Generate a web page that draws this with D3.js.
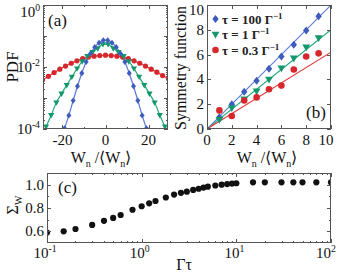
<!DOCTYPE html>
<html lang="en">
<head>
<meta charset="utf-8">
<title>Work statistics</title>
<script src="https://cdn.jsdelivr.net/npm/d3@7"></script>
<style>
  html, body { margin:0; padding:0; background:#fff; }
  svg { display:block; font-family:"Liberation Serif","Times New Roman",serif; }
</style>
</head>
<body>
<div id="chart"></div>
<script>

  ////////////////////////////////////////////////// DATA

  // (a) PDF of W_n/<W_n>
  var pdfBlueX  = [-19,-17,-15,-13,-11,-9,-7,-5,-3,-1,1,3,5,7,9,11,13,15,17,19];
  var pdfBlueY  = [0.000105,0.000275,0.00083,0.0024,0.0063,0.0145,0.0269,0.0437,0.0603,0.0724,
                   0.0724,0.0603,0.0437,0.0269,0.0145,0.0063,0.0024,0.00083,0.000275,0.000105];
  var pdfGreenX = [-27.6,-25.2,-22.8,-20.4,-18,-15.6,-13.2,-10.8,-8.4,-6,-3.6,-1.2,
                   1.2,3.6,6,8.4,10.8,13.2,15.6,18,20.4,22.8,25.2,27.6];
  var pdfGreenY = [0.00012,0.00028,0.00071,0.00138,0.0026,0.0048,0.0089,0.0151,0.0224,0.0302,0.0398,0.054,
                   0.054,0.0398,0.0302,0.0224,0.0151,0.0089,0.0048,0.0026,0.00138,0.00071,0.00028,0.00012];
  var pdfRedX   = [-29.15,-26.5,-23.85,-21.2,-18.55,-15.9,-13.25,-10.6,-7.95,-5.3,-2.65,0,
                   2.65,5.3,7.95,10.6,13.25,15.9,18.55,21.2,23.85,26.5,29.15];
  var pdfRedY   = [0.0038,0.005,0.0066,0.0085,0.0107,0.0132,0.0158,0.0186,0.0209,0.0224,0.0234,0.024,
                   0.0234,0.0224,0.0209,0.0186,0.0158,0.0132,0.0107,0.0085,0.0068,0.0053,0.0042];

  // (b) symmetry function
  var symX     = [1,2,3,4,5,6,7,8,9];
  var symBlue  = [0.95,2.0,3.0,3.9,4.85,5.85,6.8,7.95,9.1];
  var symGreen = [0.75,1.7,2.4,3.05,4.0,4.9,5.7,6.6,7.35];
  var symRed   = [1.5,1.05,2.3,2.55,3.2,3.5,4.8,5.85,6.1];
  var fitSlopes = [1.0,0.8,0.62];
  var legendLabels = ["100","1","0.3"];

  // (c) Sigma_W vs Gamma*tau
  var gammaTau = [0.1,0.15,0.2,0.3,0.4,0.5,0.6,0.8,1.0,1.2,1.4,1.8,2.2,2.6,3.0,3.5,4.0,4.5,5.0,
                  6,7,8,9,10,15,20,30,40,50,70,100];
  var sigmaW   = [0.59,0.60,0.62,0.655,0.69,0.715,0.74,0.785,0.815,0.84,0.86,0.89,0.915,0.93,0.94,0.955,
                  0.965,0.975,0.983,0.993,1.0,1.005,1.009,1.012,1.02,1.02,1.02,1.02,1.02,1.02,1.02];

  // tick labels
  var ticksAx = [-20,0,20];
  var ticksAy = [0,-2,-4];
  var ticksB  = [0,2,4,6,8,10];
  var ticksCx = [-1,0,1,2];
  var ticksCy = [0.6,0.8,1.0];

  ////////////////////////////////////////////////// SETUP

  var W = 339, H = 272;
  var colBlue = "#3d5cbd", colGreen = "#14976c", colRed = "#d8272c";
  var lineBlue = "#5878d6", lineGreen = "#22a97a", lineRed = "#e2393b";
  var frameCol = "#555";

  var svg = d3.select("#chart").append("svg")
    .attr("width", W).attr("height", H);

  var pA = {l:43, r:168, t:5, b:129};
  var pB = {l:207, r:331, t:5, b:129};
  var pC = {l:47, r:331, t:173, b:243};

  var xA = d3.scaleLinear().domain([-29,29]).range([pA.l,pA.r]);
  var yA = d3.scaleLog().domain([1e-4,1]).range([pA.b,pA.t]);
  var xB = d3.scaleLinear().domain([0,10]).range([pB.l,pB.r]);
  var yB = d3.scaleLinear().domain([0,10]).range([pB.b,pB.t]);
  var xC = d3.scaleLog().domain([0.1,100]).range([pC.l,pC.r]);
  var yC = d3.scaleLinear().domain([0.5,1.1]).range([pC.b,pC.t]);

  function clip(id, p){
    svg.append("clipPath").attr("id",id).append("rect")
      .attr("x",p.l).attr("y",p.t).attr("width",p.r-p.l).attr("height",p.b-p.t);
  }
  clip("clipA",pA); clip("clipB",pB); clip("clipC",pC);

  function frame(p){
    svg.append("rect").attr("x",p.l+0.5).attr("y",p.t+0.5)
      .attr("width",p.r-p.l-1).attr("height",p.b-p.t-1)
      .attr("fill","none").attr("stroke",frameCol).attr("stroke-width",1);
  }

  // inward ticks on all four sides
  function xTicks(p, sx, vals, len){
    vals.forEach(function(v){
      var x = Math.round(sx(v))+0.5;
      svg.append("line").attr("x1",x).attr("x2",x).attr("y1",p.b).attr("y2",p.b-len)
        .attr("stroke",frameCol);
      svg.append("line").attr("x1",x).attr("x2",x).attr("y1",p.t).attr("y2",p.t+len)
        .attr("stroke",frameCol);
    });
  }
  function yTicks(p, sy, vals, len){
    vals.forEach(function(v){
      var y = Math.round(sy(v))+0.5;
      svg.append("line").attr("y1",y).attr("y2",y).attr("x1",p.l).attr("x2",p.l+len)
        .attr("stroke",frameCol);
      svg.append("line").attr("y1",y).attr("y2",y).attr("x1",p.r).attr("x2",p.r-len)
        .attr("stroke",frameCol);
    });
  }
  function logMinor(lo, hi){
    var out = [];
    for (var e=lo; e<hi; e++) for (var k=2; k<10; k++) out.push(k*Math.pow(10,e));
    return out;
  }

  function powLabel(x, y, exp, anchor, size){
    var t = svg.append("text").attr("x",x).attr("y",y)
      .attr("text-anchor",anchor).attr("font-size",size).attr("fill","#111");
    t.append("tspan").text("10");
    t.append("tspan").attr("dy",-6).attr("font-size",size*0.65).text(exp);
    return t;
  }

  function wnLabel(cx, y){
    var t = svg.append("text").attr("x",cx).attr("y",y)
      .attr("text-anchor","middle").attr("font-size",16).attr("fill","#111");
    t.append("tspan").text("W");
    t.append("tspan").attr("dy",4).attr("font-size",10).text("n");
    t.append("tspan").attr("dy",-4).text(" /\u27E8W");
    t.append("tspan").attr("dy",4).attr("font-size",10).text("n");
    t.append("tspan").attr("dy",-4).text("\u27E9");
  }

  function marker(sel, shape, r){
    if (shape === "diamond") {
      return sel.append("path").attr("d","M0,"+(-r*1.25)+"L"+r+",0L0,"+(r*1.25)+"L"+(-r)+",0Z");
    } else if (shape === "tri") {
      return sel.append("path").attr("d","M"+(-r*1.15)+","+(-r*0.8)+"L"+(r*1.15)+","+(-r*0.8)+"L0,"+(r*1.2)+"Z");
    }
    return sel.append("circle").attr("r",r);
  }

  ////////////////////////////////////////////////// PANEL (a)

  var gA = svg.append("g").attr("clip-path","url(#clipA)");
  var seriesA = [
    {x:pdfRedX,   y:pdfRedY,   c:colRed,   lc:lineRed,   s:"circle",  r:2.6},
    {x:pdfGreenX, y:pdfGreenY, c:colGreen, lc:lineGreen, s:"tri",     r:2.7},
    {x:pdfBlueX,  y:pdfBlueY,  c:colBlue,  lc:lineBlue,  s:"diamond", r:2.5}
  ];
  seriesA.forEach(function(s){
    var pts = s.x.map(function(v,i){ return [v, s.y[i]]; });
    gA.append("path").datum(pts)
      .attr("d", d3.line().curve(d3.curveMonotoneX)
        .x(function(d){ return xA(d[0]); }).y(function(d){ return yA(d[1]); }))
      .attr("fill","none").attr("stroke",s.lc).attr("stroke-width",1.2);
  });
  seriesA.forEach(function(s){
    s.x.forEach(function(v,i){
      var g = gA.append("g").attr("transform","translate("+xA(v)+","+yA(s.y[i])+")");
      marker(g, s.s, s.r).attr("fill",s.c);
    });
  });

  frame(pA);
  xTicks(pA, xA, ticksAx, 4);
  xTicks(pA, xA, [-10,10], 2);
  yTicks(pA, yA, [1,0.1,0.01,0.001,0.0001], 4);
  yTicks(pA, yA, logMinor(-4,0), 2);

  ticksAx.forEach(function(v){
    svg.append("text").attr("x",xA(v)).attr("y",145).attr("text-anchor","middle")
      .attr("font-size",15).attr("fill","#111").text(v);
  });
  ticksAy.forEach(function(e){
    var y = Math.max(yA(Math.pow(10,e)) + 5, 17);
    powLabel(40, y, e === 0 ? "0" : String(e), "end", 15);
  });
  wnLabel(101, 163);
  svg.append("text").attr("transform","translate(18,67) rotate(-90)")
    .attr("text-anchor","middle").attr("font-size",17).attr("fill","#111").text("PDF");
  svg.append("text").attr("x",48).attr("y",26).attr("font-size",17).attr("fill","#111").text("(a)");

  ////////////////////////////////////////////////// PANEL (b)

  var gB = svg.append("g").attr("clip-path","url(#clipB)");
  var seriesB = [
    {y:symBlue,  c:colBlue,  lc:lineBlue,  s:"diamond", r:3.2},
    {y:symGreen, c:colGreen, lc:lineGreen, s:"tri",     r:3.4},
    {y:symRed,   c:colRed,   lc:lineRed,   s:"circle",  r:3.3}
  ];
  seriesB.forEach(function(s,k){
    gB.append("line")
      .attr("x1",xB(0)).attr("y1",yB(0))
      .attr("x2",xB(10)).attr("y2",yB(10*fitSlopes[k]))
      .attr("stroke",s.lc).attr("stroke-width",1.1);
  });
  seriesB.forEach(function(s){
    symX.forEach(function(v,i){
      var g = gB.append("g").attr("transform","translate("+xB(v)+","+yB(s.y[i])+")");
      marker(g, s.s, s.r).attr("fill",s.c);
    });
  });
  // small origin point
  gB.append("circle").attr("cx",xB(0)).attr("cy",yB(0)).attr("r",2.5).attr("fill",colBlue);

  frame(pB);
  xTicks(pB, xB, ticksB, 4);
  yTicks(pB, yB, ticksB, 4);

  ticksB.forEach(function(v){
    var x = Math.min(xB(v), 326);
    svg.append("text").attr("x",x).attr("y",145).attr("text-anchor","middle")
      .attr("font-size",15).attr("fill","#111").text(v);
    var y = Math.max(yB(v) + 5, 15);
    svg.append("text").attr("x",204).attr("y",Math.min(y,134)).attr("text-anchor","end")
      .attr("font-size",15).attr("fill","#111").text(v);
  });
  wnLabel(267, 163);
  svg.append("text").attr("transform","translate(186,68) rotate(-90)")
    .attr("text-anchor","middle").attr("font-size",16).attr("fill","#111").text("Symmetry function");
  svg.append("text").attr("x",306).attr("y",118).attr("font-size",17).attr("fill","#111").text("(b)");

  // legend
  seriesB.forEach(function(s,k){
    var y = 19 + k*15.5;
    var g = svg.append("g").attr("transform","translate(215.5,"+y+")");
    marker(g, s.s, s.r).attr("fill",s.c);
    var t = svg.append("text").attr("x",222).attr("y",y+4.5)
      .attr("font-size",13).attr("font-weight","bold").attr("fill","#222");
    t.append("tspan").text("\u03C4 = "+legendLabels[k]+" \u0393");
    t.append("tspan").attr("dy",-5).attr("font-size",9).text("\u22121");
  });

  ////////////////////////////////////////////////// PANEL (c)

  var gC = svg.append("g").attr("clip-path","url(#clipC)");
  gammaTau.forEach(function(v,i){
    gC.append("circle").attr("cx",xC(v)).attr("cy",yC(sigmaW[i])).attr("r",3.1).attr("fill","#111");
  });

  frame(pC);
  xTicks(pC, xC, [0.1,1,10,100], 4);
  xTicks(pC, xC, logMinor(-1,2), 2);
  yTicks(pC, yC, ticksCy, 4);
  yTicks(pC, yC, [0.7,0.9], 2);

  ticksCx.forEach(function(e){
    var x = Math.min(xC(Math.pow(10,e)), 328);
    powLabel(x - 2, 258, e < 0 ? "-1" : String(e), "middle", 15);
  });
  ticksCy.forEach(function(v){
    svg.append("text").attr("x",44).attr("y",yC(v)+5).attr("text-anchor","end")
      .attr("font-size",15).attr("fill","#111").text(v.toFixed(1));
  });
  var sl = svg.append("text").attr("transform","translate(18,205) rotate(-90)")
    .attr("text-anchor","middle").attr("font-size",16).attr("fill","#111");
  sl.append("tspan").text("\u03A3");
  sl.append("tspan").attr("dy",4).attr("font-size",10).text("W");
  svg.append("text").attr("x",184).attr("y",270).attr("text-anchor","middle")
    .attr("font-size",16).attr("fill","#111").text("\u0393\u03C4");
  svg.append("text").attr("x",58).attr("y",193).attr("font-size",17).attr("fill","#111").text("(c)");

</script>
</body>
</html>
